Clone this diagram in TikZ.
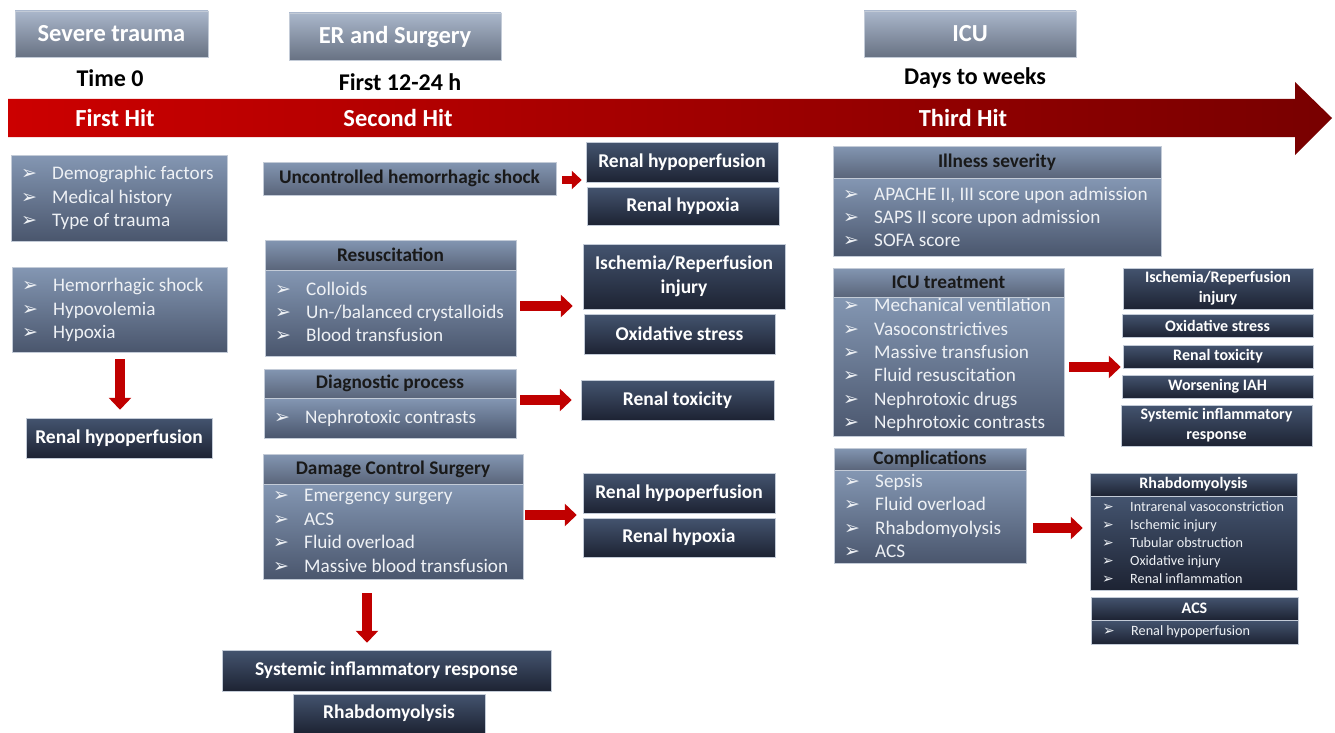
\documentclass[tikz,border=0pt]{standalone}
\usepackage{fontspec}
\setmainfont{Carlito}
\newfontfamily\dvfont{DejaVu Sans}
\usetikzlibrary{arrows.meta,calc}
\definecolor{hdTop}{HTML}{AAB7CB}
\definecolor{hdBot}{HTML}{687283}
\definecolor{lTop}{HTML}{8497B3}
\definecolor{lBot}{HTML}{4A566D}
\definecolor{hTop}{HTML}{8396B2}
\definecolor{hBot}{HTML}{5A657A}
\definecolor{dTop}{HTML}{44546F}
\definecolor{dBot}{HTML}{1D2333}
\definecolor{arrRed}{HTML}{C00000}
\definecolor{tlL}{HTML}{CC0000}
\definecolor{tlR}{HTML}{780000}
\definecolor{itemCol}{HTML}{EEF1F5}
\definecolor{edgeCol}{HTML}{C3CBD7}
\newcommand\fsz[2]{\fontsize{#1}{#2}\selectfont}
\newcommand\bl{\makebox[31pt][l]{\dvfont\fsz{19}{19}\selectfont ➢}}
\newcommand\bls{\makebox[28pt][l]{\dvfont\fsz{14}{14}\selectfont ➢}}
% box macro: style, name, x1, y1, x2, y2, text
\newcommand\bx[7]{%
  \pgfmathsetmacro\bxw{#5-#3}\pgfmathsetmacro\bxh{#6-#4}%
  \pgfmathsetmacro\bxcx{(#3+#5)/2}\pgfmathsetmacro\bxcy{(#4+#6)/2}%
  \node[#1, minimum width=\bxw pt, minimum height=\bxh pt] (#2) at (\bxcx,\bxcy) {#7};}
\tikzset{
  x=1pt, y=-1pt,
  topbox/.style={inner sep=0pt, top color=hdTop, bottom color=hdBot, draw=edgeCol, line width=0.5pt,
     text=white, font=\fsz{24.5}{28}\bfseries},
  lhead/.style={inner sep=0pt, top color=hTop, bottom color=hBot, draw=edgeCol, line width=0.5pt,
     text=black!90, font=\fsz{19.3}{22}\bfseries},
  lbody/.style={inner sep=0pt, top color=lTop, bottom color=lBot, draw=edgeCol, line width=0.5pt},
  dbox/.style={inner sep=0pt, top color=dTop, bottom color=dBot, draw=edgeCol, line width=0.5pt,
     text=white, font=\fsz{19.5}{24}\bfseries},
  sdbox/.style={dbox, font=\fsz{16}{20}\bfseries},
  dhead/.style={dbox, font=\fsz{16}{18}\bfseries},
  dbody/.style={inner sep=0pt, top color=dTop, bottom color=dBot, draw=edgeCol, line width=0.5pt},
  itemtxt/.style={anchor=west, inner sep=0pt, align=left, text=itemCol, font=\fsz{19.2}{23.4}},
  smitem/.style={anchor=west, inner sep=0pt, align=left, text=itemCol, font=\fsz{14.2}{18}},
  timelbl/.style={inner sep=0pt, text=black, font=\fsz{24}{28}\bfseries},
  hit/.style={inner sep=0pt, text=white, font=\fsz{24.5}{28}\bfseries},
  bigarr/.style={draw=arrRed, line width=10pt, -{Triangle[length=12pt,width=22pt]}},
  smallarr/.style={draw=arrRed, line width=8pt, -{Triangle[length=10pt,width=18pt]}}
}
\begin{document}
\begin{tikzpicture}
\useasboundingbox (0,0) rectangle (1335,733);
% top headers
\bx{topbox}{sev}{15}{11}{208}{57}{Severe trauma}
\bx{topbox}{er}{289}{13}{501}{60}{ER and Surgery}
\bx{topbox}{icu}{864}{11}{1076}{57}{ICU}
\node[timelbl] (tz) at (110,78) {Time 0};
\node[timelbl] (tf) at (400,82) {First 12-24 h};
\node[timelbl] (td) at (975,78) {Days to weeks};
% timeline arrow
\shade[left color=tlL, right color=tlR] (8,99) -- (1295,99) -- (1295,82) -- (1332,118) -- (1295,155) -- (1295,137) -- (8,137) -- cycle;
\node[hit] (h1) at (115,118) {First Hit};
\node[hit] (h2) at (398,118) {Second Hit};
\node[hit] (h3) at (963,118) {Third Hit};
% first column
\bx{lbody}{b1}{11}{155}{227}{241}{}
\node[itemtxt] (b1t) at (21,198) {\bl Demographic factors\\ \bl Medical history\\ \bl Type of trauma};
\bx{lbody}{b2}{12}{267}{227}{352}{}
\node[itemtxt] (b2t) at (22,310) {\bl Hemorrhagic shock\\ \bl Hypovolemia\\ \bl Hypoxia};
\bx{dbox}{rh0}{26}{418}{212}{458}{Renal hypoperfusion}
\draw[bigarr, shorten <=7pt, shorten >=8pt] (120,0 |- b2.south) -- (120,0 |- rh0.north);
% second column
\bx{lhead}{unc}{263}{162}{556}{195}{Uncontrolled hemorrhagic shock}
\bx{dbox}{rh1}{586}{142}{778}{182}{Renal hypoperfusion}
\bx{dbox}{rx1}{587}{187}{779}{225}{Renal hypoxia}
\draw[smallarr, shorten <=6pt, shorten >=4pt] (unc.east |- 0,180) -- (rh1.west |- 0,180);
\bx{lhead}{resh}{265}{240}{516}{270}{Resuscitation}
\bx{lbody}{resb}{265}{270}{516}{356}{}
\node[itemtxt] (rest) at (275,312) {\bl Colloids\\ \bl Un-/balanced crystalloids\\ \bl Blood transfusion};
\bx{dbox, align=center}{isch1}{583}{244}{785}{309}{Ischemia/Reperfusion\\injury}
\bx{dbox}{ox1}{584}{314}{775}{354}{Oxidative stress}
\draw[bigarr, shorten <=4pt, shorten >=10pt] (resb.east |- 0,306) -- (isch1.west |- 0,306);
\bx{lhead}{diah}{264}{369}{516}{398}{Diagnostic process}
\bx{lbody}{diab}{264}{398}{516}{438}{}
\node[itemtxt] (diat) at (274,418) {\bl Nephrotoxic contrasts};
\bx{dbox}{rt1}{581}{380}{774}{420}{Renal toxicity}
\draw[bigarr, shorten <=4pt, shorten >=9pt] (diab.east |- 0,400) -- (rt1.west |- 0,400);
\bx{lhead}{dcsh}{263}{454}{523}{484}{Damage Control Surgery}
\bx{lbody}{dcsb}{263}{484}{523}{579}{}
\node[itemtxt] (dcst) at (273,531) {\bl Emergency surgery\\ \bl ACS\\ \bl Fluid overload\\ \bl Massive blood transfusion};
\bx{dbox}{rh2}{583}{473}{775}{513}{Renal hypoperfusion}
\bx{dbox}{rx2}{583}{518}{775}{557}{Renal hypoxia}
\draw[bigarr, shorten <=2pt, shorten >=6pt] (dcsb.east |- 0,515) -- (rh2.west |- 0,515);
\bx{dbox}{sir}{222}{650}{551}{691}{Systemic inflammatory response}
\bx{dbox}{rhb}{293}{694}{485}{733}{Rhabdomyolysis}
\draw[bigarr, shorten <=14pt, shorten >=7pt] (367,0 |- dcsb.south) -- (367,0 |- sir.north);
% third column
\bx{lhead}{illh}{833}{146}{1161}{178}{Illness severity}
\bx{lbody}{illb}{833}{178}{1161}{256}{}
\node[itemtxt] (illt) at (843,217) {\bl APACHE II, III score upon admission\\ \bl SAPS II score upon admission\\ \bl SOFA score};
\bx{lhead}{icuh}{833}{268}{1064}{297}{ICU treatment}
\bx{lbody}{icub}{833}{297}{1064}{436}{}
\node[itemtxt] (icut) at (843,365) {\bl Mechanical ventilation\\ \bl Vasoconstrictives\\ \bl Massive transfusion\\ \bl Fluid resuscitation\\ \bl Nephrotoxic drugs\\ \bl Nephrotoxic contrasts};
\bx{sdbox, align=center}{isch2}{1123}{268}{1313}{309}{Ischemia/Reperfusion\\injury}
\bx{sdbox}{ox2}{1122}{314}{1313}{337}{Oxidative stress}
\bx{sdbox}{rt2}{1123}{345}{1313}{368}{Renal toxicity}
\bx{sdbox}{iah}{1122}{375}{1313}{398}{Worsening IAH}
\bx{sdbox, align=center}{sir2}{1121}{405}{1312}{446}{Systemic inflammatory\\response}
\draw[bigarr, shorten <=5pt, shorten >=2pt] (icub.east |- 0,367) -- (rt2.west |- 0,367);
\bx{lhead}{comh}{834}{448}{1026}{470}{Complications}
\bx{lbody}{comb}{834}{470}{1026}{563}{}
\node[itemtxt] (comt) at (844,516) {\bl Sepsis\\ \bl Fluid overload\\ \bl Rhabdomyolysis\\ \bl ACS};
\bx{dhead}{rbh}{1090}{473}{1297}{496}{Rhabdomyolysis}
\bx{dbody}{rbb}{1090}{496}{1297}{590}{}
\node[smitem] (rbt) at (1102,543) {\bls Intrarenal vasoconstriction\\ \bls Ischemic injury\\ \bls Tubular obstruction\\ \bls Oxidative injury\\ \bls Renal inflammation};
\bx{dhead}{acsh}{1091}{597}{1298}{620}{ACS}
\bx{dbody}{acsb}{1091}{620}{1298}{644}{}
\node[smitem] (acst) at (1103,632) {\bls Renal hypoperfusion};
\draw[bigarr, shorten <=7pt, shorten >=7pt] (comb.east |- 0,528) -- (rbb.west |- 0,528);
\end{tikzpicture}
\end{document}
